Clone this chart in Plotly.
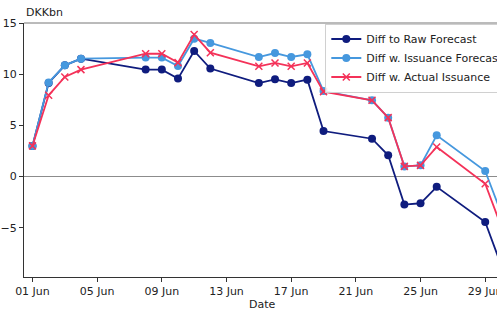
import plotly.graph_objects as go

dates = ["2024-06-01", "2024-06-02", "2024-06-03", "2024-06-04", "2024-06-08", "2024-06-09",
         "2024-06-10", "2024-06-11", "2024-06-12", "2024-06-15", "2024-06-16", "2024-06-17",
         "2024-06-18", "2024-06-19", "2024-06-22", "2024-06-23", "2024-06-24", "2024-06-25",
         "2024-06-26", "2024-06-29", "2024-06-30"]
diff_raw = [3.0, 9.15, 10.87, 11.52, 10.45, 10.45, 9.57, 12.27, 10.55, 9.14, 9.5, 9.14,
            9.47, 4.45, 3.7, 2.08, -2.73, -2.6, -1.0, -4.43, -8.7]
diff_iss_fc = [3.0, 9.2, 10.87, 11.52, 11.62, 11.62, 10.8, 13.47, 13.05, 11.68, 12.07, 11.68,
               11.94, 8.36, 7.45, 5.76, 1.0, 1.1, 4.03, 0.55, -3.6]
diff_actual = [3.0, 7.94, 9.73, 10.45, 12.0, 12.0, 11.13, 13.87, 12.1, 10.77, 11.1, 10.77,
               11.1, 8.3, 7.45, 5.76, 1.0, 1.1, 2.9, -0.7, -4.9]

x_tick_dates = ["2024-06-01", "2024-06-05", "2024-06-09", "2024-06-13", "2024-06-17",
                "2024-06-21", "2024-06-25", "2024-06-29"]
x_tick_labels = ["01 Jun", "05 Jun", "09 Jun", "13 Jun", "17 Jun", "21 Jun", "25 Jun", "29 Jun"]
y_tick_vals = [-5, 0, 5, 10, 15]
y_tick_labels = ["\u22125", "0", "5", "10", "15"]

NAVY = "#0f1c7e"
BLUE = "#4698de"
RED = "#f43259"
FONT = "DejaVu Sans"

fig = go.Figure()
fig.add_trace(go.Scatter(x=dates, y=diff_raw, name="Diff to Raw Forecast", mode="lines+markers",
                         line=dict(color=NAVY, width=1.8),
                         marker=dict(symbol="circle", size=8, color=NAVY)))
fig.add_trace(go.Scatter(x=dates, y=diff_iss_fc, name="Diff w. Issuance Forecast", mode="lines+markers",
                         line=dict(color=BLUE, width=1.8),
                         marker=dict(symbol="circle", size=8, color=BLUE)))
fig.add_trace(go.Scatter(x=dates, y=diff_actual, name="Diff w. Actual Issuance", mode="lines+markers",
                         line=dict(color=RED, width=1.8),
                         marker=dict(symbol="x-thin", size=7, color=RED, line=dict(color=RED, width=1.5))))

fig.update_layout(
    width=497, height=311,
    margin=dict(l=24, r=0, t=23, b=34, autoexpand=False),
    paper_bgcolor="white", plot_bgcolor="white",
    font=dict(family=FONT, size=11, color="#222"),
    showlegend=True,
    legend=dict(x=0.637, y=0.998, xanchor="left", yanchor="top",
                bgcolor="rgba(255,255,255,0.85)", bordercolor="#d0d0d0", borderwidth=1,
                font=dict(family=FONT, size=11, color="#222"), tracegroupgap=0,
                itemwidth=30),
    xaxis=dict(range=["2024-05-31 11:26", "2024-06-29 17:30"], type="date",
               tickvals=x_tick_dates, ticktext=x_tick_labels, ticklabeloverflow="allow",
               showgrid=False, zeroline=False, showline=True, linecolor="#333", linewidth=1,
               ticks="outside", ticklen=4, tickcolor="#333", tickfont=dict(size=11)),
    yaxis=dict(range=[-9.8, 15.0], tickvals=y_tick_vals, ticktext=y_tick_labels,
               showgrid=False, zeroline=True, zerolinecolor="#8c8c8c", zerolinewidth=1,
               showline=True, linecolor="#333", linewidth=1,
               ticks="outside", ticklen=4, tickcolor="#333", tickfont=dict(size=11)),
    shapes=[dict(type="line", xref="paper", yref="paper", x0=0, x1=1, y0=1, y1=1,
                 line=dict(color="#777", width=1))],
    annotations=[
        dict(text="DKKbn", xref="paper", yref="paper", x=0, y=1, xanchor="left", yanchor="bottom",
             yshift=2, showarrow=False, font=dict(family=FONT, size=11, color="#222")),
        dict(text="Date", xref="paper", yref="paper", x=0.504, y=0, xanchor="center", yanchor="top",
             yshift=-19, showarrow=False, font=dict(family=FONT, size=11, color="#222")),
    ],
)

fig.write_html("out.html", config={"displayModeBar": False},
               post_script="document.body.style.margin='0';document.body.style.overflow='hidden';")
